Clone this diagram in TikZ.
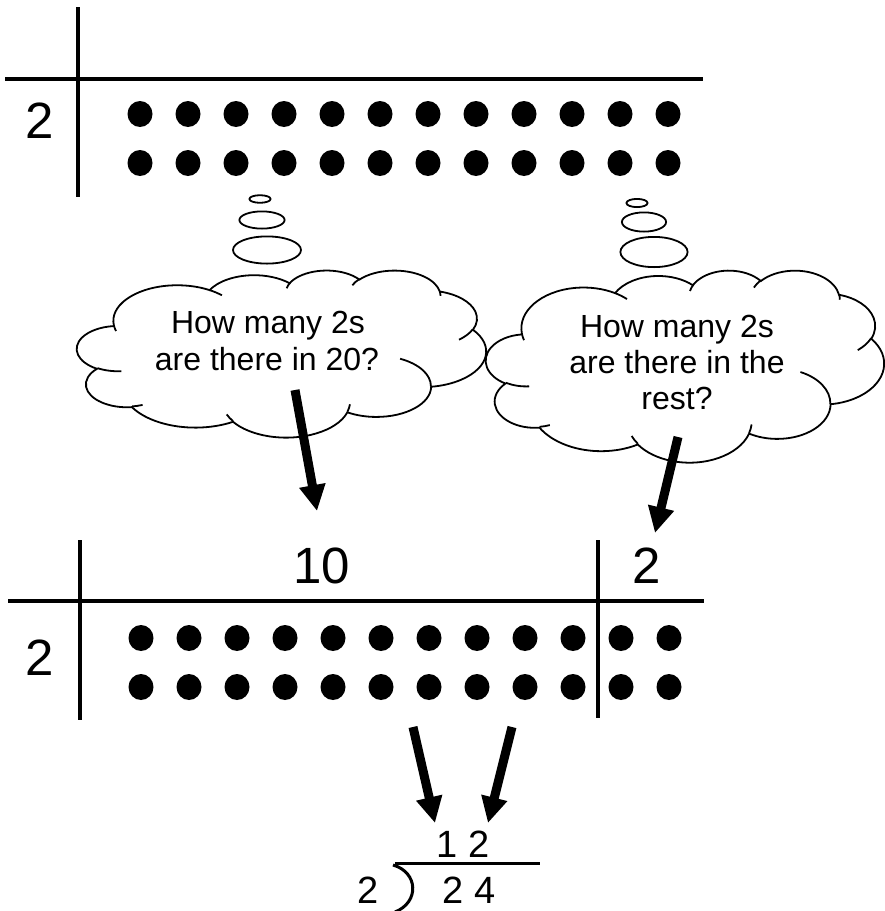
\documentclass[tikz,border=0pt]{standalone}
\usepackage{fontspec}
\setmainfont{Liberation Sans}
\usetikzlibrary{arrows.meta}

% convert an OOXML arcTo (visual angles, degrees) into parametric TikZ angles
\newcommand\ooDef[5]{%
  \pgfmathsetmacro\ooa{#4}%
  \pgfmathsetmacro\oob{#4+#5}%
  \pgfmathsetmacro\ooT{atan2((#2)*sin(\ooa),(#3)*cos(\ooa))}%
  \pgfmathsetmacro\ooD{\ooT-\ooa}%
  \pgfmathsetmacro\ooT{\ooa+\ooD-360*round(\ooD/360)}%
  \expandafter\xdef\csname ooS#1\endcsname{\ooT}%
  \pgfmathsetmacro\ooT{atan2((#2)*sin(\oob),(#3)*cos(\oob))}%
  \pgfmathsetmacro\ooD{\ooT-\oob}%
  \pgfmathsetmacro\ooT{\oob+\ooD-360*round(\ooD/360)}%
  \expandafter\xdef\csname ooE#1\endcsname{\ooT}%
}
\ooDef{a}{6.753}{9.190}{-190.4875}{123.7805}
\ooDef{b}{5.333}{7.267}{-144.1024}{89.9452}
\ooDef{c}{4.365}{5.945}{-145.8079}{99.7230}
\ooDef{d}{4.857}{6.595}{-130.9861}{117.2417}
\ooDef{e}{5.333}{7.273}{-78.7089}{109.0269}
\ooDef{f}{6.775}{9.220}{-46.2673}{130.2690}
\ooDef{g}{5.785}{7.867}{0.6250}{114.0333}
\ooDef{h}{6.752}{9.215}{22.4516}{115.1726}
\ooDef{i}{7.720}{10.543}{66.2426}{75.7110}
\ooDef{j}{4.360}{5.918}{-274.9421}{146.7356}
\ooDef{k}{4.345}{5.945}{-246.8285}{152.5189}
\ooDef{A}{4.345}{5.945}{86.7420}{26.4295}
\ooDef{B}{4.360}{5.918}{73.6105}{11.4475}
\ooDef{C}{6.752}{9.215}{137.6242}{14.0811}
\ooDef{D}{6.752}{9.215}{6.4533}{15.9984}
\ooDef{E}{5.785}{7.867}{-70.2924}{70.9174}
\ooDef{F}{5.333}{7.273}{30.3180}{27.7515}
\ooDef{G}{4.857}{6.595}{-13.7443}{14.8589}
\ooDef{H}{4.857}{6.595}{-149.1815}{18.1954}
\ooDef{I}{4.365}{5.945}{-163.4943}{17.6864}
\ooDef{J}{6.753}{9.190}{-66.7070}{12.3194}
\ooDef{K}{6.753}{9.190}{157.6544}{11.8582}

\newcommand\OOcloud{%
  \draw[cloudline, fill=white] (3.900,14.370)
    arc[start angle=\ooSa, end angle=\ooEa, x radius=6.753, y radius=9.190]
    arc[start angle=\ooSb, end angle=\ooEb, x radius=5.333, y radius=7.267]
    arc[start angle=\ooSc, end angle=\ooEc, x radius=4.365, y radius=5.945]
    arc[start angle=\ooSd, end angle=\ooEd, x radius=4.857, y radius=6.595]
    arc[start angle=\ooSe, end angle=\ooEe, x radius=5.333, y radius=7.273]
    arc[start angle=\ooSf, end angle=\ooEf, x radius=6.775, y radius=9.220]
    arc[start angle=\ooSg, end angle=\ooEg, x radius=5.785, y radius=7.867]
    arc[start angle=\ooSh, end angle=\ooEh, x radius=6.752, y radius=9.215]
    arc[start angle=\ooSi, end angle=\ooEi, x radius=7.720, y radius=10.543]
    arc[start angle=\ooSj, end angle=\ooEj, x radius=4.360, y radius=5.918]
    arc[start angle=\ooSk, end angle=\ooEk, x radius=4.345, y radius=5.945]
    -- cycle;
  \draw[cloudline]
    (4.693,26.177) arc[start angle=\ooSA, end angle=\ooEA, x radius=4.345, y radius=5.945]
    (6.928,34.899) arc[start angle=\ooSB, end angle=\ooEB, x radius=4.360, y radius=5.918]
    (16.478,39.090) arc[start angle=\ooSC, end angle=\ooEC, x radius=6.752, y radius=9.215]
    (28.827,34.751) arc[start angle=\ooSD, end angle=\ooED, x radius=6.752, y radius=9.215]
    (34.129,22.954) arc[start angle=\ooSE, end angle=\ooEE, x radius=5.785, y radius=7.867]
    (41.798,15.354) arc[start angle=\ooSF, end angle=\ooEF, x radius=5.333, y radius=7.273]
    (38.324,5.426) arc[start angle=\ooSG, end angle=\ooEG, x radius=4.857, y radius=6.595]
    (29.078,3.952) arc[start angle=\ooSH, end angle=\ooEH, x radius=4.857, y radius=6.595]
    (22.141,4.720) arc[start angle=\ooSI, end angle=\ooEI, x radius=4.365, y radius=5.945]
    (14.000,5.192) arc[start angle=\ooSJ, end angle=\ooEJ, x radius=6.753, y radius=9.190]
    (4.127,15.789) arc[start angle=\ooSK, end angle=\ooEK, x radius=6.753, y radius=9.190];
}

\begin{document}
\begin{tikzpicture}[x=1pt, y=-1pt,
  rule/.style={line width=4.5pt},
  dotfill/.style={fill=black},
  bigtxt/.style={font=\fontsize{51}{51}\selectfont, inner sep=0pt, anchor=base},
  ctxt/.style={font=\fontsize{32}{36}\selectfont, inner sep=0pt, anchor=base},
  divtxt/.style={font=\fontsize{38}{38}\selectfont, inner sep=0pt, anchor=base},
  cloudline/.style={line width=1.8pt},
  bubble/.style={line width=1.8pt},
  fat/.style={line width=9pt, -{Triangle[length=26pt,width=25pt]}}
]
\useasboundingbox (0,0) rectangle (885,911);

% ---------- top table ----------
\draw[rule] (78,7) -- (78,197);
\draw[rule] (5,79) -- (703,79);
\node[bigtxt] (topdiv) at (40,138) {2};
\foreach \k in {0,...,11} {
  \fill[dotfill] (140+48*\k,114) ellipse[x radius=12.5pt, y radius=13pt];
  \fill[dotfill] (140+48*\k,163) ellipse[x radius=12.5pt, y radius=13pt];
}

% ---------- thought bubbles ----------
\draw[bubble] (260,199) ellipse[x radius=10.6pt, y radius=3.8pt];
\draw[bubble] (262,220) ellipse[x radius=22.6pt, y radius=8.6pt];
\draw[bubble] (267,250) ellipse[x radius=34pt, y radius=13.6pt];
\draw[bubble] (637,203) ellipse[x radius=10.6pt, y radius=4.1pt];
\draw[bubble] (644,222) ellipse[x radius=22.1pt, y radius=9.6pt];
\draw[bubble] (654,252) ellipse[x radius=33.6pt, y radius=15.1pt];

\begin{scope}[shift={(77,270)}, xscale=9.468, yscale=3.866]
  \OOcloud
\end{scope}
\begin{scope}[shift={(486,270)}, xscale=9.213, yscale=4.444]
  \OOcloud
\end{scope}

\node[ctxt] (q1a) at (268,333) {How many 2s};
\node[ctxt] (q1b) at (267,370) {are there in 20?};
\node[ctxt] (q2a) at (677,337) {How many 2s};
\node[ctxt] (q2b) at (677,373) {are there in the};
\node[ctxt] (q2c) at (677,409) {rest?};

% ---------- bottom table ----------
\draw[rule] (80,540) -- (80,720);
\draw[rule] (598,540) -- (598,718);
\draw[rule] (8,601) -- (704,601);
\node[bigtxt] (botdiv) at (40,675) {2};
\node[bigtxt] (ten) at (322,583) {10};
\node[bigtxt] (two) at (647,583) {2};
\foreach \k in {0,...,11} {
  \fill[dotfill] (141+48*\k,638) ellipse[x radius=12.5pt, y radius=13pt];
  \fill[dotfill] (141+48*\k,687) ellipse[x radius=12.5pt, y radius=13pt];
}

% ---------- arrows ----------
\coordinate (a1s) at (295,390); \coordinate (a1e) at (317,511);
\coordinate (a2s) at (678,437); \coordinate (a2e) at (655,533);
\coordinate (a3s) at (413,727); \coordinate (a3e) at (435,823);
\coordinate (a4s) at (512,727); \coordinate (a4e) at (488,823);
\draw[fat] (a1s) -- (a1e);
\draw[fat] (a2s) -- (a2e);
\draw[fat] (a3s) -- (a3e);
\draw[fat] (a4s) -- (a4e);

% ---------- long division ----------
\node[divtxt] (quot) at (463,857) {1 2};
\node[divtxt] (dvd) at (469,903) {2 4};
\node[divtxt] (dvs) at (368,903) {2};
\coordinate (vl) at (395,863); \coordinate (vr) at (540,863);
\draw[line width=3pt] (vl) -- (vr);
\coordinate (bt) at (393,865); \coordinate (bb) at (395,912);
\draw[line width=3pt] (bt) .. controls (418,872) and (420,902) .. (bb);
\end{tikzpicture}
\end{document}
